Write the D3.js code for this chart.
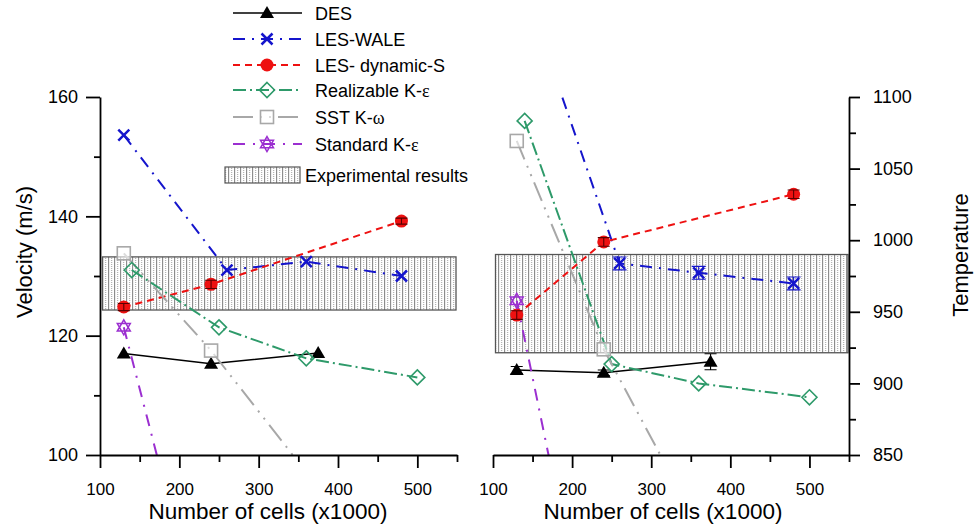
<!DOCTYPE html>
<html>
<head>
<meta charset="utf-8">
<script src="https://cdn.jsdelivr.net/npm/d3@7"></script>
<style>
body { margin: 0; background: #fff; }
svg { font-family: "Liberation Sans", Arial, sans-serif; }
</style>
</head>
<body>
<svg width="979" height="528"></svg>
<script>
// series names (legend order)
var seriesNames = ["DES", "LES-WALE", "LES- dynamic-S", "Realizable K-ε", "SST K-ω", "Standard K-ε"];

// number of cells (x1000) for each series
var desCells  = [130, 240, 375];
var waleCells = [130, 260, 360, 480];
var dynCells  = [130, 240, 480];
var realCells = [140, 250, 360, 500];
var sstCells  = [130, 240, 360];
var stdCells  = [130, 240];

// velocity (m/s), left panel
var desVel  = [117.0, 115.3, 117.1];
var waleVel = [153.6, 131.0, 132.4, 130.0];
var dynVel  = [124.8, 128.6, 139.2];
var realVel = [131.0, 121.4, 116.2, 113.0];
var sstVel  = [133.8, 117.5, 97.1];
var stdVel  = [121.4, 64.8];
var dynVelErr = [0.6, 0.7, 0.5];

// temperature, right panel
var desTemp  = [909.3, 907.4, 915.1];
var waleTemp = [1192, 983.8, 977.2, 969.8];
var dynTemp  = [947.7, 998.8, 1032.1];
var realTemp = [1083.3, 913.5, 900.0, 890.3];
var sstTemp  = [1069.3, 923.8, 800.0];
var stdTemp  = [957.7, 663.0];
var desTempErr  = [2.5, 2, 5.6];
var waleTempErr = [0, 4.5, 4.5, 4.5];
var dynTempErr  = [3, 3, 3];

// experimental ranges
var expVel  = [124.3, 133.2];
var expTemp = [921.4, 990.0];

// axis ticks
var cellTicks = [100, 200, 300, 400, 500];
var cellMinor = [150, 250, 350, 450, 550];
var velTicks  = [100, 120, 140, 160];
var velMinor  = [110, 130, 150];
var tempTicks = [850, 900, 950, 1000, 1050, 1100];
var tempMinor = [875, 925, 975, 1025, 1075];

var svg = d3.select("svg");

// styles per series
var styles = [
  { color: "#000000", dash: null,               width: 1.5, marker: "triangle" },
  { color: "#1515cc", dash: "12,7,2,7",         width: 2,   marker: "cross" },
  { color: "#ee1111", dash: "7,5",              width: 2,   marker: "circle" },
  { color: "#2e9a6a", dash: "13,4,2,4",         width: 2,   marker: "diamond" },
  { color: "#a8a8a8", dash: "20,7,2,7,2,7",     width: 2,   marker: "square" },
  { color: "#9b2fd0", dash: "12,8,2,8",         width: 2,   marker: "star" }
];

var xLeft  = d3.scaleLinear().domain([100, 550]).range([100, 457]);
var xRight = d3.scaleLinear().domain([100, 550]).range([493, 849]);
var yVel   = d3.scaleLinear().domain([100, 160]).range([455, 97]);
var yTemp  = d3.scaleLinear().domain([850, 1100]).range([455, 97]);

// hatch pattern for experimental band
var defs = svg.append("defs");
var pat = defs.append("pattern").attr("id", "hatch")
  .attr("patternUnits", "userSpaceOnUse").attr("width", 6).attr("height", 4);
pat.append("rect").attr("width", 6).attr("height", 4).attr("fill", "#fff");
pat.append("line").attr("x1", 0.6).attr("x2", 0.6).attr("y1", 0).attr("y2", 4)
  .attr("stroke", "#868686").attr("stroke-width", 1.1);
pat.append("line").attr("x1", 3.6).attr("x2", 3.6).attr("y1", 0).attr("y2", 4)
  .attr("stroke", "#b4b4b4").attr("stroke-width", 1.3).attr("stroke-dasharray", "1,1");

function hexagram(r) {
  var p = function(a) { return [r * Math.cos(a * Math.PI / 180), r * Math.sin(a * Math.PI / 180)]; };
  var up = [p(-90), p(30), p(150)], down = [p(90), p(210), p(330)];
  return "M" + up.join("L") + "Z" + "M" + down.join("L") + "Z";
}

function drawMarker(g, type, cx, cy, color) {
  var m = g.append("g").attr("transform", "translate(" + cx + "," + cy + ")");
  if (type == "triangle") {
    m.append("path").attr("d", "M0,-7L7,5L-7,5Z").attr("fill", color);
  } else if (type == "cross") {
    m.append("path").attr("d", "M-5.5,-5.5L5.5,5.5M-5.5,5.5L5.5,-5.5")
      .attr("stroke", color).attr("stroke-width", 2.5).attr("fill", "none");
  } else if (type == "circle") {
    m.append("circle").attr("r", 6.5).attr("fill", color);
  } else if (type == "diamond") {
    m.append("path").attr("d", "M0,-7.5L7.5,0L0,7.5L-7.5,0Z")
      .attr("fill", "none").attr("stroke", color).attr("stroke-width", 1.6);
  } else if (type == "square") {
    m.append("rect").attr("x", -6.5).attr("y", -6.5).attr("width", 13).attr("height", 13)
      .attr("fill", "#fff").attr("fill-opacity", 0.6).attr("stroke", color).attr("stroke-width", 1.6);
  } else if (type == "star") {
    m.append("path").attr("d", hexagram(7.5))
      .attr("fill", "none").attr("stroke", color).attr("stroke-width", 1.5);
  }
}

function drawPanel(x, y, series, band, clipId) {
  var x0 = x.range()[0], x1 = x.range()[1];
  var yTop = y.range()[1], yBot = y.range()[0];
  defs.append("clipPath").attr("id", clipId).append("rect")
    .attr("x", x0).attr("y", yTop - 1).attr("width", x1 - x0).attr("height", yBot - yTop + 1);
  var plot = svg.append("g").attr("clip-path", "url(#" + clipId + ")");

  plot.append("rect")
    .attr("x", x0 + 2.5).attr("width", x1 - x0 - 3.5)
    .attr("y", y(band[1])).attr("height", y(band[0]) - y(band[1]))
    .attr("fill", "url(#hatch)").attr("stroke", "#555").attr("stroke-width", 1.3);

  var line = d3.line().x(function(d) { return x(d.c); }).y(function(d) { return y(d.v); });

  series.forEach(function(s, k) {
    var st = styles[k];
    plot.append("path").datum(s.pts).attr("d", line)
      .attr("fill", "none").attr("stroke", st.color).attr("stroke-width", st.width)
      .attr("stroke-dasharray", st.dash);
  });

  series.forEach(function(s, k) {
    var st = styles[k];
    s.pts.forEach(function(d) {
      drawMarker(plot, st.marker, x(d.c), y(d.v), st.color);
      if (d.e > 0) {
        var ya = y(d.v + d.e), yb = y(d.v - d.e), cx = x(d.c);
        var ec = st.marker == "circle" ? "#5a0000" : st.color;
        var cap = st.marker == "cross" ? 7 : 6;
        plot.append("path")
          .attr("d", "M" + cx + "," + ya + "V" + yb + "M" + (cx - cap) + "," + ya + "H" + (cx + cap) +
                     "M" + (cx - cap) + "," + yb + "H" + (cx + cap))
          .attr("stroke", ec).attr("stroke-width", 1.1).attr("fill", "none");
      }
    });
  });
}

function build(cells, vals, errs) {
  return cells.map(function(c, i) { return { c: c, v: vals[i], e: errs ? errs[i] : 0 }; });
}

var velSeries = [
  { pts: build(desCells, desVel) },
  { pts: build(waleCells, waleVel) },
  { pts: build(dynCells, dynVel, dynVelErr) },
  { pts: build(realCells, realVel) },
  { pts: build(sstCells, sstVel) },
  { pts: build(stdCells, stdVel) }
];
var tempSeries = [
  { pts: build(desCells, desTemp, desTempErr) },
  { pts: build(waleCells, waleTemp, waleTempErr) },
  { pts: build(dynCells, dynTemp, dynTempErr) },
  { pts: build(realCells, realTemp) },
  { pts: build(sstCells, sstTemp) },
  { pts: build(stdCells, stdTemp) }
];

drawPanel(xLeft, yVel, velSeries, expVel, "clipL");
drawPanel(xRight, yTemp, tempSeries, expTemp, "clipR");

// axes
function styleAxis(g, fs) {
  g.selectAll("path, line").attr("stroke", "#000").attr("stroke-width", 1.8);
  g.selectAll("text").attr("font-size", fs).attr("fill", "#000")
    .attr("font-family", "'Liberation Sans', Arial, sans-serif");
}

[xLeft, xRight].forEach(function(x) {
  var gx = svg.append("g").attr("transform", "translate(0,455)")
    .call(d3.axisBottom(x).tickValues(cellTicks).tickSize(13).tickSizeOuter(0).tickPadding(15)
      .tickFormat(d3.format("d")));
  styleAxis(gx, 17);
  var gm = svg.append("g").attr("transform", "translate(0,455)")
    .call(d3.axisBottom(x).tickValues(cellMinor).tickSize(7).tickFormat(""));
  gm.select(".domain").remove();
  styleAxis(gm, 17);
});

var gyl = svg.append("g").attr("transform", "translate(100,0)")
  .call(d3.axisLeft(yVel).tickValues(velTicks).tickSize(14).tickSizeOuter(0).tickPadding(8)
    .tickFormat(d3.format("d")));
styleAxis(gyl, 18);
var gylm = svg.append("g").attr("transform", "translate(100,0)")
  .call(d3.axisLeft(yVel).tickValues(velMinor).tickSize(6).tickFormat(""));
gylm.select(".domain").remove();
styleAxis(gylm, 18);

var gyr = svg.append("g").attr("transform", "translate(849,0)")
  .call(d3.axisRight(yTemp).tickValues(tempTicks).tickSize(11).tickSizeOuter(0).tickPadding(13)
    .tickFormat(d3.format("d")));
styleAxis(gyr, 18);
var gyrm = svg.append("g").attr("transform", "translate(849,0)")
  .call(d3.axisRight(yTemp).tickValues(tempMinor).tickSize(7).tickFormat(""));
gyrm.select(".domain").remove();
styleAxis(gyrm, 18);

// axis titles
svg.append("text").attr("x", 268).attr("y", 519).attr("text-anchor", "middle")
  .attr("font-size", 22.5).text("Number of cells (x1000)");
svg.append("text").attr("x", 663).attr("y", 519).attr("text-anchor", "middle")
  .attr("font-size", 22.5).text("Number of cells (x1000)");
svg.append("text").attr("transform", "translate(32,252) rotate(-90)").attr("text-anchor", "middle")
  .attr("font-size", 22).text("Velocity (m/s)");
svg.append("text").attr("transform", "translate(968,255) rotate(-90)").attr("text-anchor", "middle")
  .attr("font-size", 22).text("Temperature");

// legend
var legend = svg.append("g");
var rowY = [13, 39, 65, 90, 117, 144];
seriesNames.forEach(function(name, k) {
  var st = styles[k], y = rowY[k];
  legend.append("line").attr("x1", 233).attr("x2", 302).attr("y1", y).attr("y2", y)
    .attr("stroke", st.color).attr("stroke-width", st.width).attr("stroke-dasharray", st.dash);
  drawMarker(legend, st.marker, 267, y, st.color);
  var t = legend.append("text").attr("x", 315).attr("y", y + 6.5).attr("font-size", 18);
  var m = name.match(/^(.*?)([εω])$/);
  if (m) {
    t.append("tspan").text(m[1]);
    t.append("tspan").attr("font-family", "'Liberation Serif', 'DejaVu Serif', serif").text(m[2]);
  } else {
    t.text(name);
  }
});
legend.append("rect").attr("x", 225).attr("y", 167).attr("width", 75).attr("height", 16)
  .attr("fill", "url(#hatch)").attr("stroke", "#555").attr("stroke-width", 1.2);
legend.append("text").attr("x", 305).attr("y", 181.5).attr("font-size", 18).text("Experimental results");
</script>
</body>
</html>
